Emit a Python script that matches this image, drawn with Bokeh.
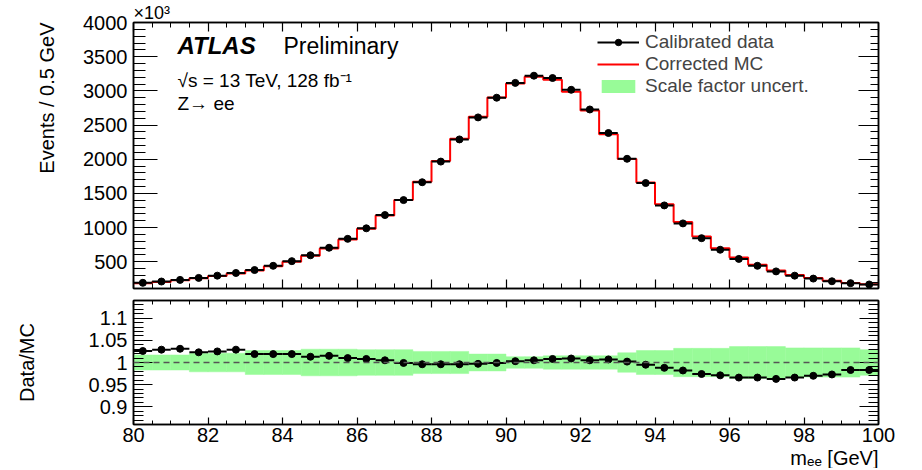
import numpy as np
from bokeh.plotting import figure
from bokeh.models import (Range1d, LinearAxis, FixedTicker, Label, Legend, LegendItem,
                          Span, CustomJSTickFormatter, Title)
from bokeh.layouts import column
from bokeh.embed import file_html
from bokeh.resources import INLINE

FONT = "Liberation Sans"

# ---------------- data ----------------
mass_lo = 80.0
mass_hi = 100.0
bin_width = 0.5

# events per 0.5 GeV, in units of 10^3
data_counts = [193, 212, 236, 265, 298, 337, 380, 442, 510, 596,
               706, 836, 990, 1184, 1403, 1664, 1966, 2290, 2612, 2900,
               3117, 3222, 3188, 3016, 2728, 2384, 2007, 1652, 1325, 1062,
               846, 677, 543, 442, 360, 298, 255, 216, 188, 169]
mc_counts = [188, 206, 229, 259, 291, 328, 373, 434, 500, 588,
             696, 828, 982, 1178, 1404, 1671, 1974, 2299, 2620, 2903,
             3108, 3206, 3163, 2989, 2714, 2367, 2003, 1660, 1341, 1081,
             869, 697, 562, 458, 374, 308, 263, 222, 191, 172]
ratio = [1.026, 1.029, 1.031, 1.023, 1.025, 1.029, 1.019, 1.019, 1.019, 1.013,
         1.015, 1.010, 1.008, 1.005, 0.999, 0.996, 0.996, 0.996, 0.997, 0.999,
         1.003, 1.005, 1.008, 1.009, 1.005, 1.007, 1.002, 0.995, 0.988, 0.982,
         0.974, 0.971, 0.966, 0.966, 0.963, 0.966, 0.970, 0.973, 0.983, 0.983]
sf_unc = [0.017, 0.017, 0.017, 0.021, 0.021, 0.021, 0.027, 0.027, 0.027, 0.030,
          0.030, 0.030, 0.029, 0.029, 0.029, 0.025, 0.025, 0.025, 0.019, 0.019,
          0.013, 0.013, 0.015, 0.015, 0.015, 0.015, 0.022, 0.027, 0.027, 0.032,
          0.032, 0.032, 0.036, 0.036, 0.036, 0.033, 0.033, 0.033, 0.033, 0.029]

x_major = [80, 82, 84, 86, 88, 90, 92, 94, 96, 98, 100]
top_y_major = [500, 1000, 1500, 2000, 2500, 3000, 3500, 4000]
ratio_major = [0.9, 0.95, 1.0, 1.05, 1.1]

# ---------------- derived ----------------
n = len(data_counts)
lo = mass_lo + bin_width * np.arange(n)
hi = lo + bin_width
centers = lo + bin_width / 2
data_arr = np.array(data_counts, dtype=float)
mc_arr = np.array(mc_counts, dtype=float)
ratio_arr = np.array(ratio)
unc_arr = np.array(sf_unc)

x_minor = list(np.arange(mass_lo, mass_hi + 0.01, 0.5))
top_y_minor = list(np.arange(200, 4001, 100))
ratio_minor = list(np.round(np.arange(0.86, 1.141, 0.01), 3))

GREEN = "#98fb98"
FRAME_W = 745
LEFT = 133
RIGHT = 36
TOP_H = 266
BOT_H = 124


def style_axis(ax, ticker, tick_in, minor_in, show_labels, size="20px", standoff=6):
    ax.ticker = ticker
    ax.major_tick_in = tick_in
    ax.major_tick_out = 0
    ax.minor_tick_in = minor_in
    ax.minor_tick_out = 0
    ax.axis_line_color = "black"
    ax.axis_line_width = 1.5
    ax.major_tick_line_color = "black"
    ax.minor_tick_line_color = "black"
    ax.major_tick_line_width = 1.2
    ax.minor_tick_line_width = 1
    ax.major_label_text_font = FONT
    ax.major_label_text_color = "black"
    if show_labels:
        ax.major_label_text_font_size = size
        ax.major_label_standoff = standoff
    else:
        ax.formatter = CustomJSTickFormatter(code="return '';")
        ax.major_label_text_font_size = "0px"
        ax.major_label_standoff = 0


def make_title(text, size, align, standoff, valign="bottom"):
    t = Title(text=text, align=align, text_font=FONT, text_font_size=size,
              text_font_style="normal", text_color="black", vertical_align=valign)
    if "standoff" in Title.properties():
        t.standoff = standoff
    return t


x_range = Range1d(mass_lo, mass_hi)

# ---------------- top panel ----------------
top = figure(frame_width=FRAME_W, frame_height=TOP_H, x_range=x_range,
             y_range=Range1d(110, 4000), output_backend="svg", toolbar_location=None,
             min_border_left=LEFT, min_border_right=RIGHT, min_border_top=22,
             min_border_bottom=6)
top.grid.visible = False
top.outline_line_color = "black"
top.outline_line_width = 1.5

style_axis(top.xaxis[0], FixedTicker(ticks=x_major, minor_ticks=x_minor), 9, 5, False)
style_axis(top.yaxis[0], FixedTicker(ticks=top_y_major, minor_ticks=top_y_minor), 24, 12, True)
ax_t = LinearAxis()
style_axis(ax_t, FixedTicker(ticks=x_major, minor_ticks=x_minor), 9, 5, False)
top.add_layout(ax_t, "above")
ax_r = LinearAxis()
style_axis(ax_r, FixedTicker(ticks=top_y_major, minor_ticks=top_y_minor), 20, 8, False)
top.add_layout(ax_r, "right")

# band also placed in the top panel (falls below its visible range) so that
# the legend can show its swatch
band_top = top.quad(left=lo, right=hi, bottom=1 - unc_arr, top=1 + unc_arr,
                    fill_color=GREEN, line_color=None)
mc_step = top.step(x=np.append(lo, hi[-1]), y=np.append(mc_arr, mc_arr[-1]), mode="after",
                   line_color="red", line_width=2)
data_seg = top.segment(x0=lo, y0=data_arr, x1=hi, y1=data_arr, line_color="black", line_width=2)
data_pts = top.scatter(x=centers, y=data_arr, size=7, fill_color="black", line_color="black")

legend = Legend(items=[LegendItem(label="Calibrated data", renderers=[data_seg, data_pts]),
                       LegendItem(label="Corrected MC", renderers=[mc_step]),
                       LegendItem(label="Scale factor uncert.", renderers=[band_top])],
                location=(464, TOP_H - 75), border_line_color=None, background_fill_alpha=0,
                padding=0, spacing=0, margin=0, glyph_width=42, glyph_height=16,
                label_height=18, label_standoff=6, label_text_font=FONT,
                label_text_font_size="19px", label_text_baseline="middle")
top.add_layout(legend)


def lab(fig, x, y, text, size, **kw):
    fig.add_layout(Label(x=x, y=y, x_units="screen", y_units="screen", text=text,
                         text_font=FONT, text_font_size=size, text_color="black", **kw))


lab(top, 44, TOP_H - 23, "ATLAS", "24px", text_baseline="middle", text_font_style="bold italic")
lab(top, 150, TOP_H - 23, "Preliminary", "23px", text_baseline="middle")
lab(top, 44, TOP_H - 58, "√s = 13 TeV, 128 fb⁻¹", "19px", text_baseline="middle")
lab(top, 44, TOP_H - 81, "Z→ ee", "19px", text_baseline="middle")

top.add_layout(make_title("×10³", "18px", "left", 0), "above")
top.add_layout(make_title("Events / 0.5 GeV", "20px", "right", 42, valign="top"), "left")

# ---------------- ratio panel ----------------
bot = figure(frame_width=FRAME_W, frame_height=BOT_H, x_range=x_range,
             y_range=Range1d(0.86, 1.14), output_backend="svg", toolbar_location=None,
             min_border_left=LEFT, min_border_right=RIGHT, min_border_top=6,
             min_border_bottom=20)
bot.grid.visible = False
bot.outline_line_color = "black"
bot.outline_line_width = 1.5

style_axis(bot.xaxis[0], FixedTicker(ticks=x_major, minor_ticks=x_minor), 7, 4, True,
           size="20px", standoff=3)
style_axis(bot.yaxis[0], FixedTicker(ticks=ratio_major, minor_ticks=ratio_minor), 19, 10, True)
bot.yaxis[0].formatter = CustomJSTickFormatter(code="return String(tick);")
bot.yaxis[0].axis_label = "Data/MC"
bot.yaxis[0].axis_label_text_font = FONT
bot.yaxis[0].axis_label_text_font_size = "20px"
bot.yaxis[0].axis_label_text_font_style = "normal"
bot.yaxis[0].axis_label_text_color = "black"
bot.yaxis[0].axis_label_standoff = 48
ax_t2 = LinearAxis()
style_axis(ax_t2, FixedTicker(ticks=x_major, minor_ticks=x_minor), 7, 4, False)
bot.add_layout(ax_t2, "above")
ax_r2 = LinearAxis()
style_axis(ax_r2, FixedTicker(ticks=ratio_major, minor_ticks=ratio_minor), 19, 10, False)
bot.add_layout(ax_r2, "right")

bot.quad(left=lo, right=hi, bottom=1 - unc_arr, top=1 + unc_arr, fill_color=GREEN,
         line_color=GREEN, line_width=0.5)
bot.add_layout(Span(location=1.0, dimension="width", line_color="#555555",
                    line_dash="6 4", line_width=1.5))
bot.segment(x0=lo, y0=ratio_arr, x1=hi, y1=ratio_arr, line_color="black", line_width=2)
bot.scatter(x=centers, y=ratio_arr, size=7, fill_color="black", line_color="black")

bot.add_layout(make_title("mₑₑ [GeV]", "20px", "right", 0), "below")

layout = column(top, bot)
open("out.html", "w").write(file_html(layout, INLINE))
